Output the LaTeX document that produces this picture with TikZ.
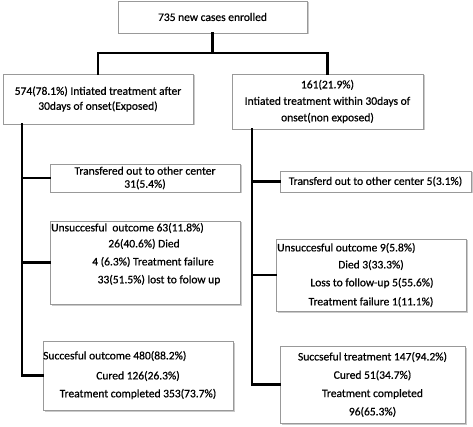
\documentclass[tikz,border=0pt]{standalone}
\usepackage{fontspec}
\setmainfont[FakeBold=0.6,AutoFakeBold=0.6]{Carlito}
\usetikzlibrary{shadows}
\begin{document}
\begin{tikzpicture}[x=1pt,y=-1pt,
            box/.style={draw=black!40,line width=0.6pt,fill=white,inner sep=0pt,align=center,
                drop shadow={shadow xshift=1.5pt,shadow yshift=-1.5pt,fill=black!35,opacity=0.6}},
            txt/.style={inner sep=0pt,font=\fontsize{11.5}{13}\selectfont\bfseries},
            link/.style={line width=2.2pt,line cap=rect}]
            \useasboundingbox (0,0) rectangle (473,427);
            \node[box,minimum width=189pt,minimum height=32pt,font=\fontsize{11.5}{13}\selectfont\bfseries] (top) at (212.5,17){735 new cases enrolled};
            \node[box,minimum width=190pt,minimum height=50pt,font=\fontsize{11.5}{15}\selectfont\bfseries] (ex) at (98,99){574(78.1\%) Intiated treatment after\\30days of onset(Exposed)};
            \node[box,minimum width=191pt,minimum height=55pt,font=\fontsize{11.5}{16.5}\selectfont\bfseries] (nex) at (327.5,101.5){161(21.9\%)\\Intiated treatment within 30days of\\onset(non exposed)};
            \node[box,minimum width=190pt,minimum height=28pt,font=\fontsize{11.5}{13}\selectfont\bfseries] (ltr) at (145,178){Transfered out to other center\\31(5.4\%)};
            \node[box,minimum width=191pt,minimum height=21pt,font=\fontsize{11.5}{13}\selectfont\bfseries] (rtr) at (375.5,181.5){Transferd out to other center 5(3.1\%)};
            \node[box,minimum width=190pt,minimum height=83pt] (lun) at (145,262.5){};
            \node[box,minimum width=190pt,minimum height=72pt] (run) at (371,275){};
            \node[box,minimum width=190pt,minimum height=69pt] (lsu) at (138,375.5){};
            \node[box,minimum width=185pt,minimum height=77pt,font=\fontsize{11.5}{18.3}\selectfont\bfseries] (rsu) at (372.5,384.5){Succseful treatment 147(94.2\%)\\Cured 51(34.7\%)\\Treatment completed\\96(65.3\%)};
            \node[txt,anchor=west] (lun1) at (51,228){Unsuccesful\ \ outcome 63(11.8\%)};
            \node[txt] (lun2) at (144,244){26(40.6\%) Died};
            \node[txt] (lun3) at (153,262){4 (6.3\%) Treatment failure};
            \node[txt] (lun4) at (159,280){33(51.5\%) lost to folow up};
            \node[txt,anchor=west] (run1) at (277,248){Unsuccesful outcome 9(5.8\%)};
            \node[txt] (run2) at (371,265){Died 3(33.3\%)};
            \node[txt] (run3) at (372,283){Loss to follow-up 5(55.6\%)};
            \node[txt] (run4) at (371,302){Treatment failure 1(11.1\%)};
            \node[txt,anchor=west] (lsu1) at (43,356){Succesful outcome 480(88.2\%)};
            \node[txt] (lsu2) at (138,376){Cured 126(26.3\%)};
            \node[txt] (lsu3) at (138,394){Treatment completed 353(73.7\%)};
            \coordinate (split) at (212.5,53);
            \coordinate (exl) at (22,124);
            \coordinate (nexl) at (252,129);
            \draw[link] (top) -- (split);
            \draw[link] (ex.north) |- (split) -| (nex.north);
            \draw[link] (exl) |- (lsu.west);
            \draw[link] (exl |- ltr.west) -- (ltr.west);
            \draw[link] (exl |- lun.west) -- (lun.west);
            \draw[link] (nexl) |- (rsu.west);
            \draw[link] (nexl |- rtr.west) -- (rtr.west);
            \draw[link] (nexl |- run.west) -- (run.west);
        \end{tikzpicture}
\end{document}
